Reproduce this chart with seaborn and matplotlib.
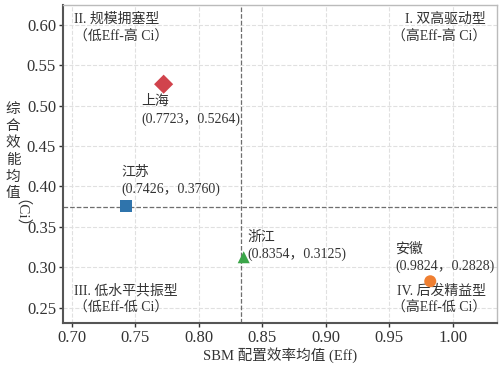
import matplotlib
matplotlib.use("Agg")
import matplotlib.pyplot as plt
import seaborn as sns
import pandas as pd
import numpy as np

# data
provinces = ['上海', '江苏', '浙江', '安徽']
eff = [0.7723, 0.7426, 0.8354, 0.9824]
ci = [0.5264, 0.3760, 0.3125, 0.2828]
colors = ['#d1434c', '#2f74ac', '#3aa548', '#ef7f31']
markers = ['D', 's', '^', 'o']
sizes = [95, 80, 75, 75]
# label offsets (points) and vertical alignment for each province
offsets = [(-16, -8), (-3, 7), (3, -3), (-25, 6)]
valigns = ['top', 'bottom', 'bottom', 'bottom']

quad_text = ['I. 双高驱动型\n（高Eff-高 Ci）', 'II. 规模拥塞型\n（低Eff-高 Ci）',
             'III. 低水平共振型\n（低Eff-低 Ci）', 'IV. 后发精益型\n（高Eff-低 Ci）']

df = pd.DataFrame({'province': provinces, 'eff': eff, 'ci': ci})

sns.set_style('whitegrid')
plt.rcParams['font.family'] = ['Liberation Serif', 'Noto Sans CJK SC']
plt.rcParams['axes.unicode_minus'] = False

fig = plt.figure(figsize=(5, 3.74), dpi=100)
ax = fig.add_axes([0.126, 0.137, 0.868, 0.850])

sns.scatterplot(data=df, x='eff', y='ci', hue='province', style='province',
                palette=dict(zip(provinces, colors)),
                markers=dict(zip(provinces, markers)),
                size='province', sizes=dict(zip(provinces, sizes)),
                edgecolor='none', legend=False, zorder=5, ax=ax)

# mean lines
ax.axvline(np.mean(eff), color='#6e6e6e', ls='--', lw=0.9, zorder=2)
ax.axhline(np.mean(ci), color='#6e6e6e', ls='--', lw=0.9, zorder=2)

ax.set_xlim(0.693, 1.035)
ax.set_ylim(0.2315, 0.6245)
ax.set_xticks(np.arange(0.70, 1.001, 0.05))
ax.set_yticks(np.arange(0.25, 0.601, 0.05))
ax.xaxis.set_major_formatter(matplotlib.ticker.FormatStrFormatter('%.2f'))
ax.yaxis.set_major_formatter(matplotlib.ticker.FormatStrFormatter('%.2f'))
ax.tick_params(labelsize=12, colors='#333333', length=3, width=1, pad=2,
               left=True, bottom=True, direction='out')
ax.grid(True, color='#e0e0e0', ls='--', lw=0.8)

for s in ['left', 'bottom']:
    ax.spines[s].set_color('#555555')
    ax.spines[s].set_linewidth(1.5)
for s in ['top', 'right']:
    ax.spines[s].set_color('#bbbbbb')
    ax.spines[s].set_linewidth(1.0)

for name, x, y, off, va in zip(provinces, eff, ci, offsets, valigns):
    ax.annotate(f'{name}\n({x:.4f}，{y:.4f})', (x, y), xytext=off,
                textcoords='offset points', ha='left', va=va,
                fontsize=10, color='#333333', linespacing=1.4, zorder=6)

tk = dict(fontsize=10, color='#333333', linespacing=1.4, transform=ax.transAxes)
ax.text(0.975, 0.975, quad_text[0], ha='right', va='top', **tk)
ax.text(0.025, 0.975, quad_text[1], ha='left', va='top', **tk)
ax.text(0.025, 0.025, quad_text[2], ha='left', va='bottom', **tk)
ax.text(0.975, 0.025, quad_text[3], ha='right', va='bottom', **tk)

ax.set_xlabel('SBM 配置效率均值 (Eff)', fontsize=10.5, color='#333333', labelpad=1)
ax.set_ylabel('')
fig.text(0.026, 0.594, '综\n合\n效\n能\n均\n值', fontsize=10.5, color='#333333',
         ha='center', va='center', linespacing=1.36)
fig.text(0.026, 0.409, '（Ci）', fontsize=11, color='#333333',
         ha='center', va='center', rotation=270)

fig.savefig('out.png', dpi=100)
